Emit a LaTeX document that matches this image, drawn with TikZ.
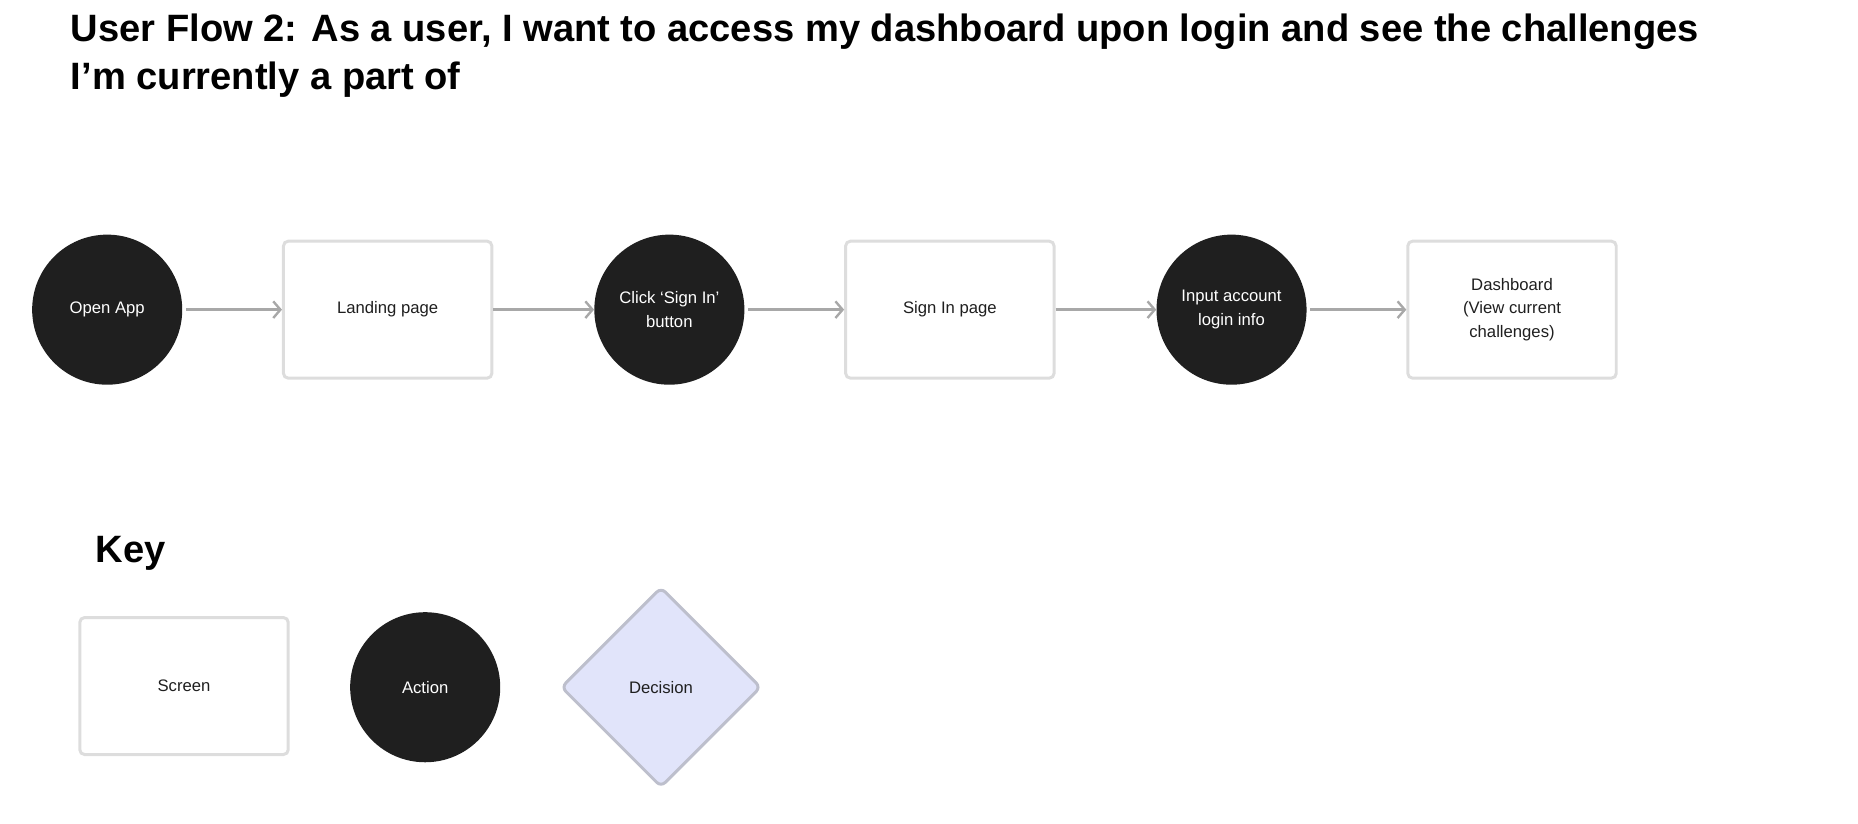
\documentclass[tikz,border=0pt]{standalone}
\usepackage{fontspec}
\setmainfont{Liberation Sans}
\usetikzlibrary{shapes.geometric,arrows.meta}
\definecolor{dark}{HTML}{1F1F1F}
\definecolor{boxgray}{HTML}{DDDDDD}
\definecolor{arrowgray}{HTML}{A8A8A8}
\definecolor{lav}{HTML}{E1E4FA}
\definecolor{lavb}{HTML}{BDBFCC}
\begin{document}
\begin{tikzpicture}[x=1pt,y=-1pt,
  action/.style={circle,fill=dark,minimum size=126pt,inner sep=0pt,text=white,align=center,font=\fontsize{14}{20}\selectfont},
  screen/.style={draw=boxgray,line width=2.5pt,rounded corners=4pt,minimum width=175pt,minimum height=115pt,fill=white,align=center,font=\fontsize{14}{20}\selectfont,text=dark},
  decision/.style={diamond,draw=lavb,fill=lav,line width=2.5pt,rounded corners=5pt,minimum size=168pt,inner sep=0pt,font=\fontsize{14}{20}\selectfont,text=dark},
  arr/.style={draw=arrowgray,line width=2pt,-{Straight Barb[length=6pt,width=14pt]}}]
\useasboundingbox (0,0) rectangle (1560,691);
\node[anchor=base west,font=\fontsize{32}{40}\selectfont\bfseries,align=left,text=black] (title) at (56,75)
  {User Flow 2: As a user, I want to access my dashboard upon login and see the challenges\\I’m currently a part of};
\node[action] (open) at (90,260) {Open App};
\node[screen] (land) at (325.5,260) {Landing page};
\node[action] (click) at (562,260) {Click ‘Sign In’\\button};
\node[screen] (signin) at (797.5,260) {Sign In page};
\node[action] (input) at (1034,260) {Input account\\login info};
\node[screen] (dash) at (1269.5,260) {Dashboard\\(View current\\challenges)};
\draw[arr] (open.east) ++(3,0) coordinate (a1) -- (land.west);
\draw[arr] (land.east) -- (click.west);
\draw[arr] (click.east) ++(3,0) coordinate (a3) -- (signin.west);
\draw[arr] (signin.east) -- (input.west);
\draw[arr] (input.east) ++(3,0) coordinate (a5) -- (dash.west);
\node[anchor=base west,font=\fontsize{32}{40}\selectfont\bfseries] (key) at (77,472) {Key};
\node[screen] (kscreen) at (154.5,576) {Screen};
\node[action] (kaction) at (357,577) {Action};
\node[decision] (kdec) at (555,577) {Decision};
\end{tikzpicture}
\end{document}
